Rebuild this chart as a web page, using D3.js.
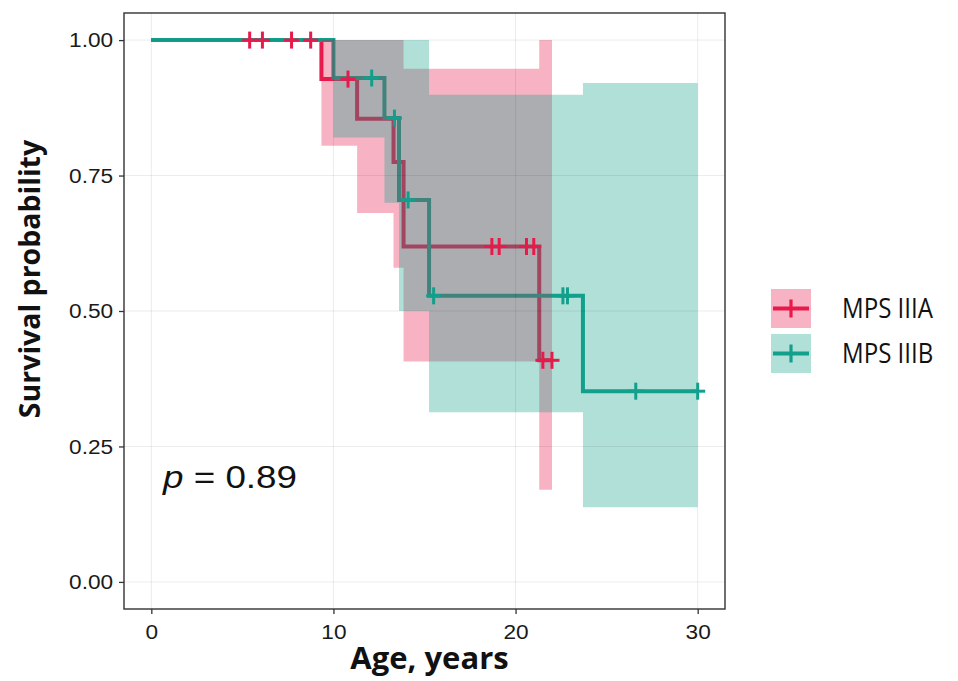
<!DOCTYPE html>
<html>
<head>
<meta charset="utf-8">
<script src="https://cdn.jsdelivr.net/npm/d3@7"></script>
<style>
  body { margin: 0; background: #fff; }
  svg { display: block; }
</style>
</head>
<body>
<svg id="chart" width="958" height="681"></svg>
<script>
// Kaplan-Meier curves (age in years)
const timesA = [0, 9.34, 11.3, 13.3, 13.85, 21.3];
const survA = [1, 0.928, 0.855, 0.775, 0.619, 0.409];
const upperA = [1, 1, 1, 1, 0.947, 1];
const lowerA = [1, 0.805, 0.681, 0.58, 0.407, 0.17];
const endA = 22.0;
const censorA = [5.4, 6.1, 7.7, 8.75, 10.8, 18.7, 19.1, 20.6, 21.0, 21.5, 22.0];

const timesB = [0, 10.0, 12.8, 13.6, 15.25, 23.7];
const survB = [1, 0.93, 0.856, 0.705, 0.528, 0.352];
const upperB = [1, 1, 1, 1, 0.899, 0.921];
const lowerB = [1, 0.82, 0.70, 0.50, 0.313, 0.138];
const endB = 30.0;
const censorB = [12.1, 13.35, 14.1, 15.5, 22.6, 22.85, 26.6, 30.0];

const groups = ["MPS IIIA", "MPS IIIB"];
const groupColors = ["#E8194B", "#12A08C"];
const xTicks = [0, 10, 20, 30];
const yTicks = [0, 0.25, 0.5, 0.75, 1];
const pValue = "0.89";

const panel = {left: 124, right: 725, top: 13, bottom: 609};
const svg = d3.select("#chart");

const x = d3.scaleLinear().domain([-1.5, 31.5]).range([panel.left, panel.right]);
const y = d3.scaleLinear().domain([-0.05, 1.05]).range([panel.bottom, panel.top]);

function stepPoints(times, surv, lower, upper, end) {
  const pts = times.map((t, i) => ({t: t, s: surv[i], lo: lower[i], hi: upper[i]}));
  const last = pts[pts.length - 1];
  pts.push({t: end, s: last.s, lo: last.lo, hi: last.hi});
  return pts;
}
function survAt(times, surv, t) {
  const i = d3.bisectRight(times, t) - 1;
  return surv[Math.max(i, 0)];
}

const series = [
  {name: groups[0], color: groupColors[0], pts: stepPoints(timesA, survA, lowerA, upperA, endA),
   cens: censorA.map(t => ({t: t, s: survAt(timesA, survA, t)}))},
  {name: groups[1], color: groupColors[1], pts: stepPoints(timesB, survB, lowerB, upperB, endB),
   cens: censorB.map(t => ({t: t, s: survAt(timesB, survB, t)}))}
];

const ribbonAlpha = 0.33;

svg.append("clipPath").attr("id", "panelClip")
  .append("rect")
  .attr("x", panel.left).attr("y", panel.top)
  .attr("width", panel.right - panel.left).attr("height", panel.bottom - panel.top);

const plot = svg.append("g").attr("clip-path", "url(#panelClip)");

// survival lines (ribbons go over them, as in the figure)
const line = d3.line().curve(d3.curveStepAfter).x(d => x(d.t)).y(d => y(d.s));
series.forEach(s => {
  plot.append("path")
    .datum(s.pts)
    .attr("d", line)
    .attr("fill", "none")
    .attr("stroke", s.color)
    .attr("stroke-width", 4);
});

// confidence bands
const band = d3.area().curve(d3.curveStepAfter)
  .x(d => x(d.t)).y0(d => y(d.lo)).y1(d => y(d.hi));
series.forEach(s => {
  plot.append("path")
    .datum(s.pts)
    .attr("d", band)
    .attr("fill", s.color)
    .attr("fill-opacity", ribbonAlpha);
});

// grid
plot.selectAll(".gx").data(xTicks).enter().append("line")
  .attr("x1", d => x(d)).attr("x2", d => x(d))
  .attr("y1", panel.top).attr("y2", panel.bottom)
  .attr("stroke", "#000").attr("stroke-opacity", 0.08).attr("stroke-width", 1);
plot.selectAll(".gy").data(yTicks).enter().append("line")
  .attr("y1", d => y(d)).attr("y2", d => y(d))
  .attr("x1", panel.left).attr("x2", panel.right)
  .attr("stroke", "#000").attr("stroke-opacity", 0.08).attr("stroke-width", 1);

// censor marks
const half = 8.5;
series.forEach(s => {
  const g = plot.append("g").attr("stroke", s.color).attr("stroke-width", 3);
  s.cens.forEach(c => {
    g.append("line")
      .attr("x1", x(c.t)).attr("x2", x(c.t))
      .attr("y1", y(c.s) - half).attr("y2", y(c.s) + half);
    g.append("line")
      .attr("x1", x(c.t) - half + 1).attr("x2", x(c.t) + half - 1)
      .attr("y1", y(c.s)).attr("y2", y(c.s));
  });
});

// panel border
svg.append("rect")
  .attr("x", panel.left).attr("y", panel.top)
  .attr("width", panel.right - panel.left).attr("height", panel.bottom - panel.top)
  .attr("fill", "none").attr("stroke", "#333").attr("stroke-width", 1.4);

// axes
const xAxis = svg.append("g")
  .attr("transform", `translate(0,${panel.bottom})`)
  .call(d3.axisBottom(x).tickValues(xTicks).tickSize(5).tickPadding(10).tickFormat(d3.format("d")));
const yAxis = svg.append("g")
  .attr("transform", `translate(${panel.left},0)`)
  .call(d3.axisLeft(y).tickValues(yTicks).tickSize(5).tickPadding(5).tickFormat(d3.format(".2f")));

[xAxis, yAxis].forEach(a => {
  a.select(".domain").remove();
  a.selectAll(".tick line").attr("stroke", "#333").attr("stroke-width", 1.3);
  a.selectAll(".tick text")
    .attr("fill", "#1a1a1a")
    .style("font-family", "'Liberation Sans', Arial, sans-serif")
    .style("font-size", "21px")
    .attr("transform", "scale(1.08,1)");
});

// axis titles
svg.append("text")
  .attr("x", (panel.left + panel.right) / 2 + 5)
  .attr("y", 669)
  .attr("text-anchor", "middle")
  .style("font-family", "'Open Sans', sans-serif")
  .style("font-weight", "bold")
  .style("font-size", "31px")
  .attr("fill", "#111")
  .text("Age, years");

svg.append("text")
  .attr("transform", "translate(40,279) rotate(-90)")
  .attr("text-anchor", "middle")
  .style("font-family", "'Open Sans', sans-serif")
  .style("font-weight", "bold")
  .style("font-size", "28.5px")
  .attr("fill", "#111")
  .text("Survival probability");

// p value
const pText = svg.append("text")
  .attr("transform", "translate(163,488) scale(1.15,1)")
  .style("font-family", "'Liberation Sans', Arial, sans-serif")
  .style("font-size", "32px")
  .attr("fill", "#111");
pText.append("tspan").style("font-style", "italic").text("p");
pText.append("tspan").text(" = " + pValue);

// legend
const legend = svg.append("g");
const keyX = 771, keyW = 40, keyH = 39, keyGap = 6, keyTop = 289;
series.forEach((s, i) => {
  const ky = keyTop + i * (keyH + keyGap);
  legend.append("rect")
    .attr("x", keyX).attr("y", ky).attr("width", keyW).attr("height", keyH)
    .attr("fill", s.color).attr("fill-opacity", ribbonAlpha);
  const cy = ky + keyH / 2;
  legend.append("line")
    .attr("x1", keyX + 2).attr("x2", keyX + keyW - 2)
    .attr("y1", cy).attr("y2", cy)
    .attr("stroke", s.color).attr("stroke-width", 4);
  legend.append("line")
    .attr("x1", keyX + keyW / 2).attr("x2", keyX + keyW / 2)
    .attr("y1", cy - 9).attr("y2", cy + 9)
    .attr("stroke", s.color).attr("stroke-width", 3.2);
  legend.append("text")
    .attr("transform", `translate(842,${cy + 9.5}) scale(0.86,1)`)
    .style("font-family", "'Open Sans', sans-serif")
    .style("font-size", "28px")
    .attr("fill", "#111")
    .text(s.name);
});
</script>
</body>
</html>
